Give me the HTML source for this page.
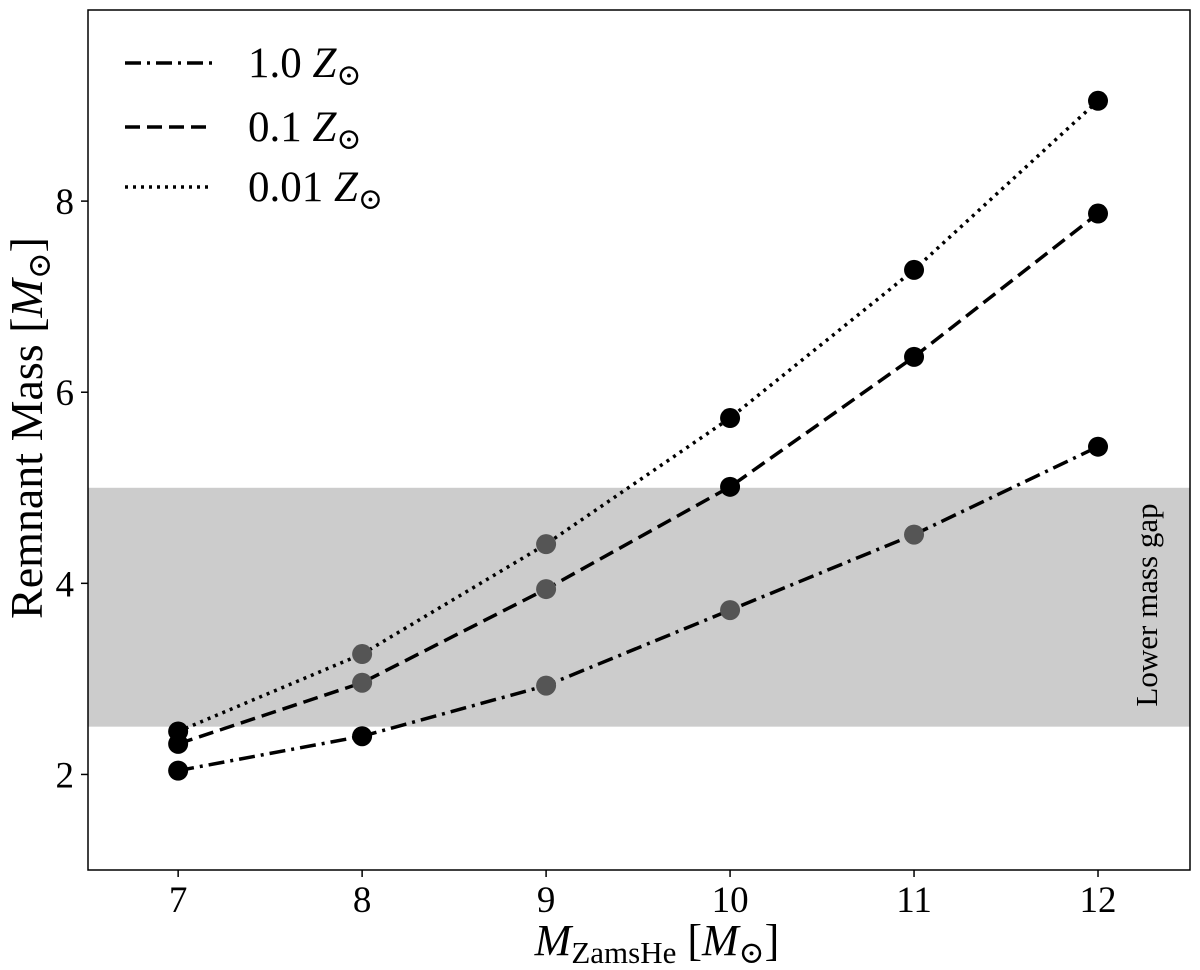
<!DOCTYPE html>
<html><head><meta charset="utf-8"><style>
body{margin:0;background:#fff}
svg{display:block;font-family:"Liberation Serif","DejaVu Serif",serif}
</style></head><body>
<svg id="chart" width="1200" height="970">
<g id="plot"></g>
</svg>
<script>
const xValues=[7,8,9,10,11,12];
const seriesSolar=[2.04,2.40,2.93,3.72,4.51,5.43];
const seriesTenth=[2.32,2.96,3.94,5.01,6.37,7.87];
const seriesHundredth=[2.45,3.26,4.41,5.73,7.28,9.05];
const xTicks=[7,8,9,10,11,12];
const yTicks=[2,4,6,8];
const gapRange=[2.5,5];
const L=88,R=1190,T=10,B=870,X0=6.51,X1=12.5,Y0=1,Y1=10;
const sx=v=>L+(v-X0)/(X1-X0)*(R-L);
const sy=v=>B-(v-Y0)/(Y1-Y0)*(B-T);
const NS="http://www.w3.org/2000/svg";
const g=document.getElementById('plot');
function mk(t,a,p){const e=document.createElementNS(NS,t);for(const k in a)e.setAttribute(k,a[k]);(p||g).appendChild(e);return e;}
let e;
e=mk('rect',{x:L,y:sy(gapRange[1]),width:R-L,height:sy(gapRange[0])-sy(gapRange[1]),fill:'#cccccc'});


e=mk('text',{x:0,y:0,'font-size':31,'text-anchor':'middle',transform:`translate(1157,605) rotate(-90)`});
e.textContent='Lower mass gap';


const series=[[seriesSolar,'16,6,3,6','series-1.0-zsun'],[seriesTenth,'15,7','series-0.1-zsun'],[seriesHundredth,'3,5','series-0.01-zsun']];
series.forEach(([vals,dash,name])=>{
 e=mk('polyline',{points:vals.map((v,i)=>sx(xValues[i])+','+sy(v)).join(' '),fill:'none',stroke:'#000','stroke-width':3.5,'stroke-dasharray':dash});
 
 
});
series.forEach(([vals,dash,name])=>{
 vals.forEach((v,i)=>{
  const inGap=v>=gapRange[0]&&v<=gapRange[1];
  e=mk('circle',{cx:sx(xValues[i]),cy:sy(v),r:10,fill:inGap?'#555':'#000'});
  
  
 });
});
e=mk('rect',{x:L,y:T,width:R-L,height:B-T,fill:'none',stroke:'#000','stroke-width':1.5});


xTicks.forEach(t=>{
 e=mk('line',{x1:sx(t),x2:sx(t),y1:B,y2:B+7,stroke:'#000','stroke-width':1.5});
 
 
 e=mk('text',{x:sx(t),y:912,'font-size':37,'text-anchor':'middle'});e.textContent=t;
 
 
});
yTicks.forEach(t=>{
 e=mk('line',{x1:L-7,x2:L,y1:sy(t),y2:sy(t),stroke:'#000','stroke-width':1.5});
 
 
 e=mk('text',{x:L-14,y:sy(t)+13,'font-size':37,'text-anchor':'end'});e.textContent=t;
 
 
});
const leg=[['16,6,3,6','1.0'],['15,7','0.1'],['3,5','0.01']];
const ly=[63,127,187];
leg.forEach(([d,lab],i)=>{
 e=mk('line',{x1:125,x2:213,y1:ly[i],y2:ly[i],stroke:'#000','stroke-width':3.5,'stroke-dasharray':d});
 
 
 e=mk('text',{x:248,y:ly[i]+14,'font-size':43});
 e.innerHTML=lab+' <tspan font-style="italic">Z</tspan><tspan font-size="30" dy="8">⊙</tspan>';
 
 
});
e=mk('text',{x:0,y:0,'font-size':46,'text-anchor':'middle',transform:`translate(42,428) rotate(-90)`});
e.innerHTML='Remnant Mass [<tspan font-style="italic">M</tspan><tspan font-size="32" dy="8">⊙</tspan><tspan dy="-8">]</tspan>';


e=mk('text',{x:657,y:955,'font-size':44,'text-anchor':'middle'});
e.innerHTML='<tspan font-style="italic">M</tspan><tspan font-size="31" dy="8">ZamsHe</tspan><tspan dy="-8"> [</tspan><tspan font-style="italic">M</tspan><tspan font-size="31" dy="8">⊙</tspan><tspan dy="-8">]</tspan>';


</script>
</body></html>
